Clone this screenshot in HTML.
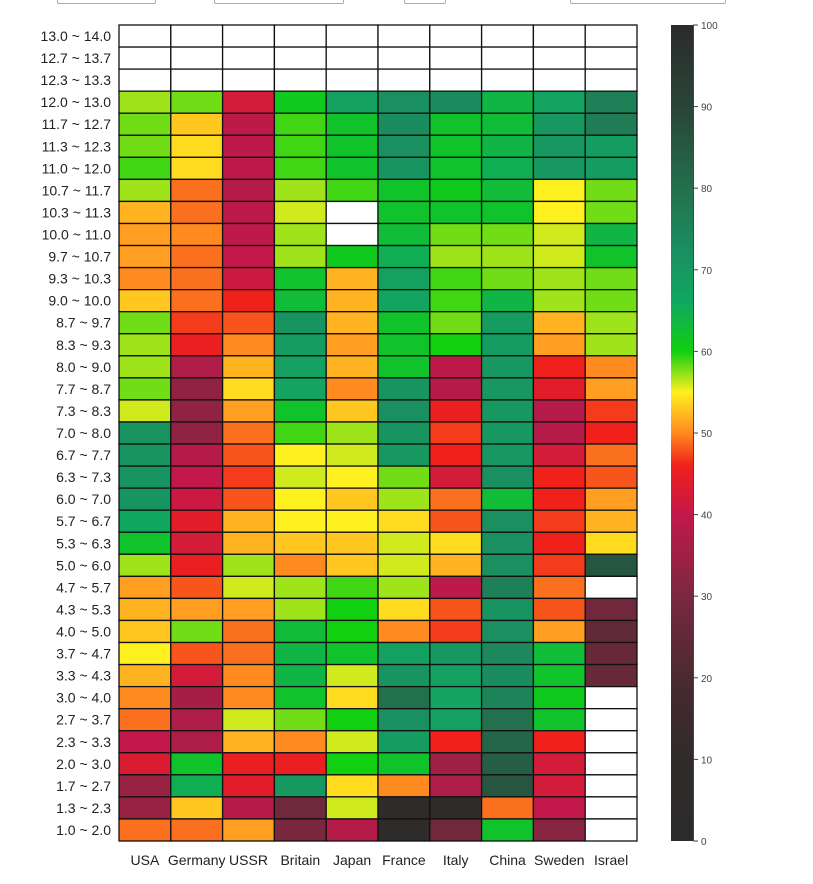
<!DOCTYPE html>
<html><head><meta charset="utf-8"><style>
html,body{margin:0;padding:0;background:#fff;width:813px;height:884px;overflow:hidden;font-family:"Liberation Sans",sans-serif}
.ctl{position:absolute;top:-8px;height:10px;border:1px solid #aaa;border-radius:2px;background:#fff}
</style></head><body>
<div class="ctl" style="left:57px;width:97px"></div>
<div class="ctl" style="left:214px;width:128px"></div>
<div class="ctl" style="left:404px;width:40px"></div>
<div class="ctl" style="left:570px;width:154px"></div>
<svg id="chart" width="813" height="884" style="position:absolute;left:0;top:0">
<defs><linearGradient id="cb" x1="0" y1="1" x2="0" y2="0">
<stop offset="0" stop-color="#2b2b2b"/><stop offset="0.1" stop-color="#302b2b"/><stop offset="0.2" stop-color="#4a2a30"/>
<stop offset="0.3" stop-color="#7a2840"/><stop offset="0.4" stop-color="#c4184a"/><stop offset="0.46" stop-color="#f0201a"/>
<stop offset="0.5" stop-color="#ff8a20"/><stop offset="0.55" stop-color="#fff020"/><stop offset="0.6" stop-color="#10d010"/>
<stop offset="0.66" stop-color="#10a860"/><stop offset="0.72" stop-color="#1a9060"/><stop offset="0.8" stop-color="#22704c"/>
<stop offset="0.9" stop-color="#2a4438"/><stop offset="1" stop-color="#2b2b2b"/></linearGradient></defs>
</svg>
<script>
const columns=["USA","Germany","USSR","Britain","Japan","France","Italy","China","Sweden","Israel"];
const rowLabels=["13.0 ~ 14.0","12.7 ~ 13.7","12.3 ~ 13.3","12.0 ~ 13.0","11.7 ~ 12.7","11.3 ~ 12.3","11.0 ~ 12.0","10.7 ~ 11.7","10.3 ~ 11.3","10.0 ~ 11.0","9.7 ~ 10.7","9.3 ~ 10.3","9.0 ~ 10.0","8.7 ~ 9.7","8.3 ~ 9.3","8.0 ~ 9.0","7.7 ~ 8.7","7.3 ~ 8.3","7.0 ~ 8.0","6.7 ~ 7.7","6.3 ~ 7.3","6.0 ~ 7.0","5.7 ~ 6.7","5.3 ~ 6.3","5.0 ~ 6.0","4.7 ~ 5.7","4.3 ~ 5.3","4.0 ~ 5.0","3.7 ~ 4.7","3.3 ~ 4.3","3.0 ~ 4.0","2.7 ~ 3.7","2.3 ~ 3.3","2.0 ~ 3.0","1.7 ~ 2.7","1.3 ~ 2.3","1.0 ~ 2.0"];
const N=null;
const values=[
[N,N,N,N,N,N,N,N,N,N],[N,N,N,N,N,N,N,N,N,N],[N,N,N,N,N,N,N,N,N,N],
[57,58,42,61,68,72,73,64,67,76],[58,53,39,59,62,73,62,63,70,77],[58,54,39,59,62,72,62,64,70,69],
[59,54,39,59,62,71,62,65,70,69],[57,49,38,57,59,62,61,63,55,58],[52,49,39,56,N,62,62,62,55,58],
[51,50,39,57,N,63,58,58,56,64],[51,49,40,57,61,65,57,57,56,62],[50,49,41,62,52,68,59,58,57,58],
[53,49,46,63,52,67,59,64,57,58],[58,47,48,71,52,62,58,69,52,57],[57,45,50,69,51,62,60,69,51,57],
[57,37,52,68,52,62,39,70,46,50],[58,33,54,67,50,71,38,70,44,51],[56,33,51,62,53,72,45,70,38,47],
[71,33,49,59,57,71,47,70,38,46],[71,38,48,55,56,70,46,70,42,49],[71,40,47,56,55,58,42,72,46,48],
[71,41,48,55,53,57,49,63,46,51],[66,44,52,55,55,54,48,72,47,52],[62,42,52,53,53,56,54,72,46,54],
[57,45,57,50,53,56,52,72,47,86],[51,48,56,57,59,57,39,76,49,N],[52,51,51,57,60,54,48,71,48,28],
[53,58,49,63,60,50,47,72,51,25],[55,48,49,64,62,68,70,74,63,26],[52,42,50,64,56,71,68,73,62,26],
[50,36,50,62,54,80,67,75,61,N],[49,37,56,58,60,72,68,80,62,N],[40,37,52,50,56,69,46,82,46,N],
[43,62,45,45,60,62,35,84,42,N],[34,65,44,70,54,50,37,86,42,N],[34,53,38,28,56,8,10,49,40,N],
[49,49,51,30,38,6,28,62,32,N]];
const cbTicks=[0,10,20,30,40,50,60,70,80,90,100];
const stops=[[0,[43,43,43]],[10,[48,43,43]],[20,[74,42,48]],[30,[122,40,64]],[40,[196,24,74]],[46,[240,32,26]],[50,[255,138,32]],[55,[255,240,32]],[60,[16,208,16]],[66,[16,168,96]],[72,[26,144,96]],[80,[34,112,76]],[90,[42,68,56]],[100,[43,43,43]]];
function color(v){for(let i=1;i<stops.length;i++){if(v<=stops[i][0]){const a=stops[i-1],b=stops[i],t=(v-a[0])/(b[0]-a[0]);return 'rgb('+a[1].map((c,k)=>Math.round(c+(b[1][k]-c)*t)).join(',')+')';}}return 'rgb(43,43,43)';}
const L=119,R=637,T=25,B=841;
const cw=(R-L)/columns.length, rh=(B-T)/rowLabels.length;
const x=i=>L+i*cw, y=j=>T+j*rh;
const cbY=v=>B-(v/100)*(B-T);
const svg=document.getElementById('chart'),NS='http://www.w3.org/2000/svg';
function mk(t,a,p){const e=document.createElementNS(NS,t);for(const k in a)e.setAttribute(k,a[k]);(p||svg).appendChild(e);return e;}
values.forEach((row,j)=>row.forEach((v,i)=>{
 const r=mk('rect',{x:x(i),y:y(j),width:cw,height:rh,fill:v==null?'#fff':color(v),stroke:'#111','stroke-width':1.3});
 
 
}));
rowLabels.forEach((s,j)=>{const t=mk('text',{x:111,y:y(j)+rh/2+5,'text-anchor':'end','font-size':14,fill:'#222'});t.textContent=s;
 
 });
columns.forEach((s,i)=>{const t=mk('text',{x:x(i)+cw/2,y:865,'text-anchor':'middle','font-size':14,fill:'#222'});t.textContent=s;
 
 });
const cb=mk('rect',{x:671,y:T,width:22,height:B-T,fill:'url(#cb)'});


mk('line',{x1:693.5,y1:T,x2:693.5,y2:B,stroke:'#444','stroke-width':1});
cbTicks.forEach(v=>{mk('line',{x1:693,x2:698,y1:cbY(v),y2:cbY(v),stroke:'#444'});
 const t=mk('text',{x:701,y:cbY(v)+4,'font-size':10,fill:'#444'});t.textContent=v;
 
 });
const g=mk('text',{x:815,y:-1,'font-size':12,fill:'#444'});g.textContent='g';
</script>
</body></html>
